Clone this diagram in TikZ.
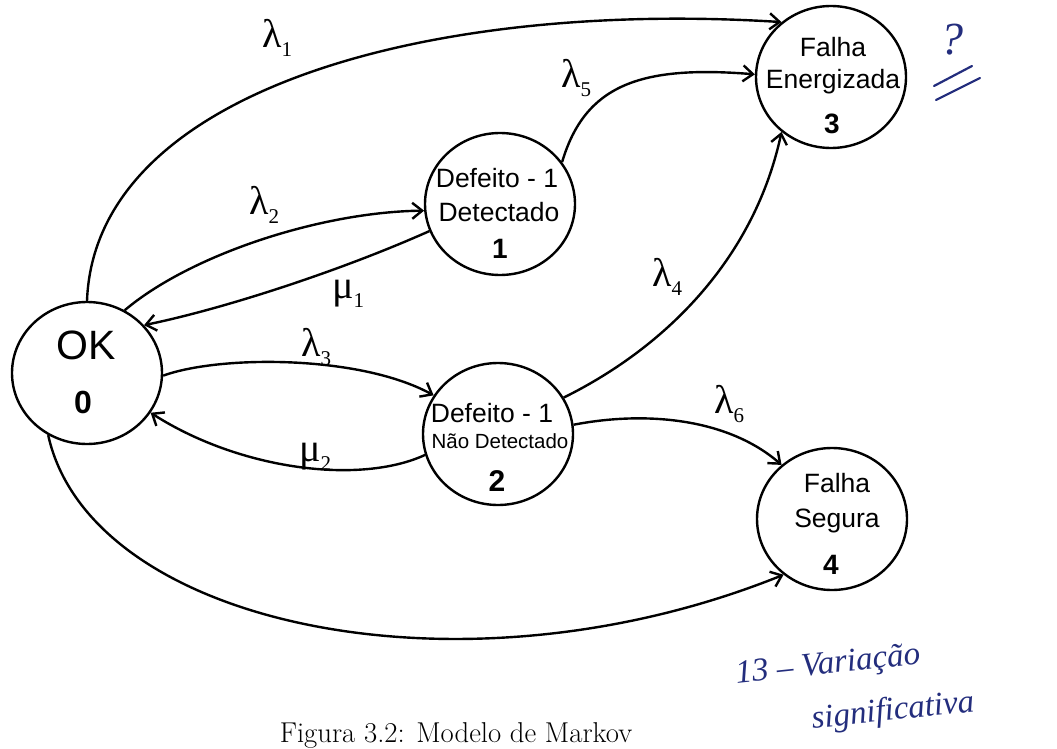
\documentclass[tikz,border=0pt]{standalone}
\usepackage{fontspec}
\usetikzlibrary{arrows.meta,shapes.geometric}
\newfontfamily\arialfont{Liberation Sans}
\newfontfamily\greekfont{Liberation Serif}
\newfontfamily\handfont{Liberation Serif}
\definecolor{ink}{RGB}{35,45,125}
% transition rate: Greek letter with a lowered index
\newcommand\ratelabel[2]{#1\raisebox{-9pt}{\fontsize{21}{21}\selectfont #2}}
\begin{document}
\begin{tikzpicture}[x=1pt,y=-1pt,
  state/.style={draw, ellipse, line width=2.4pt, minimum width=150pt, minimum height=142pt, inner sep=0pt},
  trans/.style={line width=2.4pt, -{Straight Barb[length=10pt,width=16pt,line width=2.4pt]}},
  txt/.style={font=\arialfont\fontsize{26.5}{26.5}\selectfont, anchor=base, inner sep=0pt},
  smalltxt/.style={font=\arialfont\fontsize{20.5}{20.5}\selectfont, anchor=base, inner sep=0pt},
  num/.style={font=\arialfont\bfseries\fontsize{28}{28}\selectfont, anchor=base, inner sep=0pt},
  rate/.style={font=\greekfont\fontsize{40}{40}\selectfont, anchor=base west, inner sep=0pt},
  hand/.style={font=\handfont\itshape\fontsize{33}{33}\selectfont, text=ink, inner sep=0pt},
  handline/.style={draw=ink, line width=2.2pt, line cap=round}]
\useasboundingbox (0,0) rectangle (1057,749);
\clip (0,0) rectangle (1057,749);
\fill[white] (0,0) rectangle (1057,749);

% states
\node[state] (n0) at (87,373) {};
\node[state] (n1) at (500,204) {};
\node[state] (n2) at (498,434) {};
\node[state] (n3) at (831,77) {};
\node[state] (n4) at (832,519) {};

% state texts
\node[txt, font=\arialfont\fontsize{41}{41}\selectfont] (t0a) at (86,359) {OK};
\node[num, font=\arialfont\bfseries\fontsize{32}{32}\selectfont] (t0b) at (83,413) {0};
\node[txt] (t1a) at (497,187) {Defeito - 1};
\node[txt] (t1b) at (499,221) {Detectado};
\node[num] (t1c) at (500,258) {1};
\node[txt] (t2a) at (492,422) {Defeito - 1};
\node[smalltxt] (t2b) at (500,448) {Não Detectado};
\node[num, font=\arialfont\bfseries\fontsize{30}{30}\selectfont] (t2c) at (497,491) {2};
\node[txt] (t3a) at (833,57) {Falha};
\node[txt] (t3b) at (833,89) {Energizada};
\node[num] (t3c) at (832,133) {3};
\node[txt] (t4a) at (837,492) {Falha};
\node[txt] (t4b) at (837,527) {Segura};
\node[num] (t4c) at (831,574) {4};

% transitions
\draw[trans] (n0.90) .. controls (95,90) and (430,0) .. (n3.132);
\draw[trans] (n0.59) .. controls (190,255) and (320,212) .. (n1.185);
\draw[trans] (n1.201) .. controls (340,271) and (223,309) .. (n0.40);
\draw[trans] (n0.-2) .. controls (220,355) and (360,355) .. (n2.149);
\draw[trans] (n2.196) .. controls (360,485) and (240,470) .. (n0.-32);
\draw[trans] (n0.238) .. controls (90,625) and (460,705) .. (n4.229);
\draw[trans] (n2.7) .. controls (650,410) and (730,420) .. (n4.133);
\draw[trans] (n2.29) .. controls (670,345) and (755,255) .. (n3.228);
\draw[trans] (n1.34) .. controls (585,85) and (640,65) .. (n3.178);

% rates
\node[rate] (l1) at (262,48) {\ratelabel{λ}{1}};
\node[rate] (l2) at (249,214) {\ratelabel{λ}{2}};
\node[rate] (m1) at (332,298) {\ratelabel{μ}{1}};
\node[rate] (l3) at (301,356) {\ratelabel{λ}{3}};
\node[rate] (m2) at (299,461) {\ratelabel{μ}{2}};
\node[rate] (l4) at (652,286) {\ratelabel{λ}{4}};
\node[rate] (l5) at (561,88) {\ratelabel{λ}{5}};
\node[rate] (l6) at (714,413) {\ratelabel{λ}{6}};

% pen notes
\node[hand, font=\handfont\itshape\fontsize{46}{46}\selectfont] (q) at (952,40) {?};
\draw[handline] (934,86) -- (972,66);
\draw[handline] (936,100) -- (980,78);
\node[hand, rotate=6] (note1) at (828,666) {13 – Variação};
\node[hand, rotate=6] (note2) at (893,712) {significativa};

% caption
\node[font=\fontsize{28.7}{28.7}\selectfont, anchor=base, inner sep=0pt] (cap) at (456,742) {Figura 3.2: Modelo de Markov};
\end{tikzpicture}
\end{document}
